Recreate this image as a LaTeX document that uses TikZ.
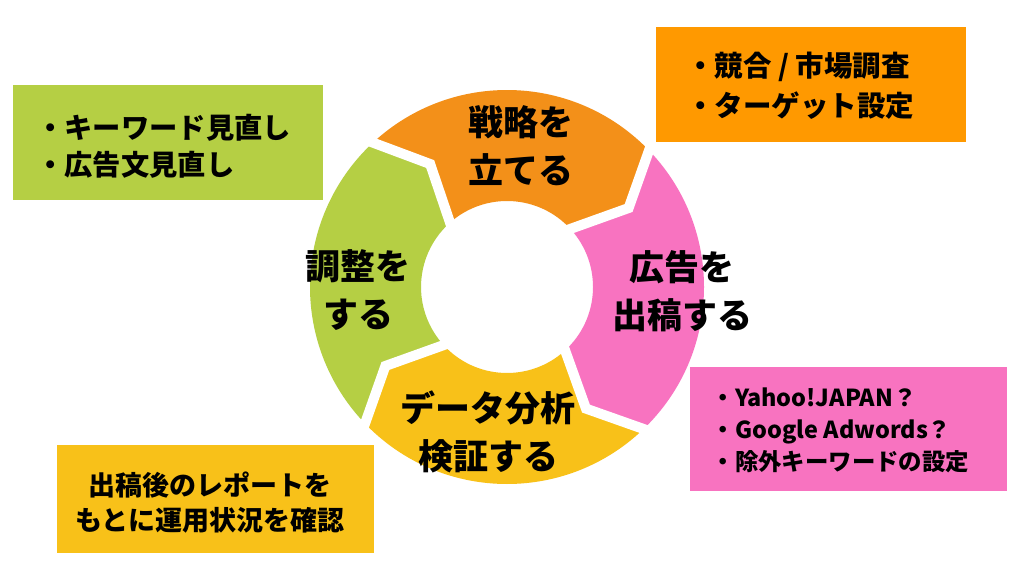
\documentclass[tikz,border=0pt]{standalone}
\usepackage{fontspec}
\setmainfont{Noto Sans CJK JP}[BoldFont={Noto Sans CJK JP Black}]
\begin{document}
\begin{tikzpicture}[x=1pt,y=1pt,
  ringlabel/.style={font=\bfseries\fontsize{35}{48}\selectfont, align=center, inner sep=0pt, text=black},
  boxtext/.style={font=\bfseries\fontsize{28.5}{40}\selectfont, inner sep=0pt, text=black},
  infobox/.style={inner sep=0pt, draw=none}]
\definecolor{segorange}{HTML}{F39019}
\definecolor{boxorange}{HTML}{FF9900}
\definecolor{seggreen}{HTML}{B5CF44}
\definecolor{segpink}{HTML}{F873C0}
\definecolor{segyellow}{HTML}{F8C119}
\useasboundingbox (0,0) rectangle (1024,576);
\fill[white] (0,0) rectangle (1024,576);
% ring
\def\Ro{197}\def\Ri{86}\def\Rm{145}\def\dl{12}
\begin{scope}[shift={(507,289)}]
\foreach \a/\b/\c in {134/45/segorange, 45/-45/segpink, -45/-135/segyellow, 225/134/seggreen}{
  \fill[\c] (\a:\Ro) arc[start angle=\a, end angle=\b, radius=\Ro]
    -- ({\b-\dl}:\Rm) -- (\b:\Ri) arc[start angle=\b, end angle=\a, radius=\Ri]
    -- ({\a-\dl}:\Rm) -- cycle;
}
\foreach \t in {134,45,-45,-135}{
  \draw[white, line width=10pt] (\t:{\Ro+8}) -- ({\t-\dl}:\Rm) -- (\t:{\Ri-8});
}
\end{scope}
% ring labels
\node[ringlabel] (strat) at (521,430) {戦略を\\立てる};
\node[ringlabel] (ad) at (682,285) {広告を\\出稿する};
\node[ringlabel] (adj) at (358,286) {調整を\\する};
\node[ringlabel] (data) at (488,144.5) {データ分析\\検証する};
% boxes
\node[infobox, fill=boxorange, minimum width=310, minimum height=115] (obox) at (811,491.5) {};
\node[infobox, fill=seggreen, minimum width=310, minimum height=115] (gbox) at (168,433.5) {};
\node[infobox, fill=segyellow, minimum width=317, minimum height=108] (ybox) at (215.5,77) {};
\node[infobox, fill=segpink, minimum width=317, minimum height=124] (pbox) at (848.5,147) {};
% box texts
\node[boxtext, align=left, anchor=west] (otext) at (686,490) {・競合 / 市場調査\\・ターゲット設定};
\node[boxtext, align=left, anchor=west, font=\bfseries\fontsize{28.3}{37}\selectfont] (gtext) at (36,430) {・キーワード見直し\\・広告文見直し};
\node[boxtext, align=center, font=\bfseries\fontsize{27}{35}\selectfont] (ytext) at (210,73.5) {出稿後のレポートを\\もとに運用状況を確認};
\node[boxtext, align=left, anchor=west, font=\bfseries\fontsize{23.4}{32}\selectfont] (ptext) at (711.5,146) {・Yahoo!JAPAN？\\・Google Adwords？\\・除外キーワードの設定};
\end{tikzpicture}
\end{document}
